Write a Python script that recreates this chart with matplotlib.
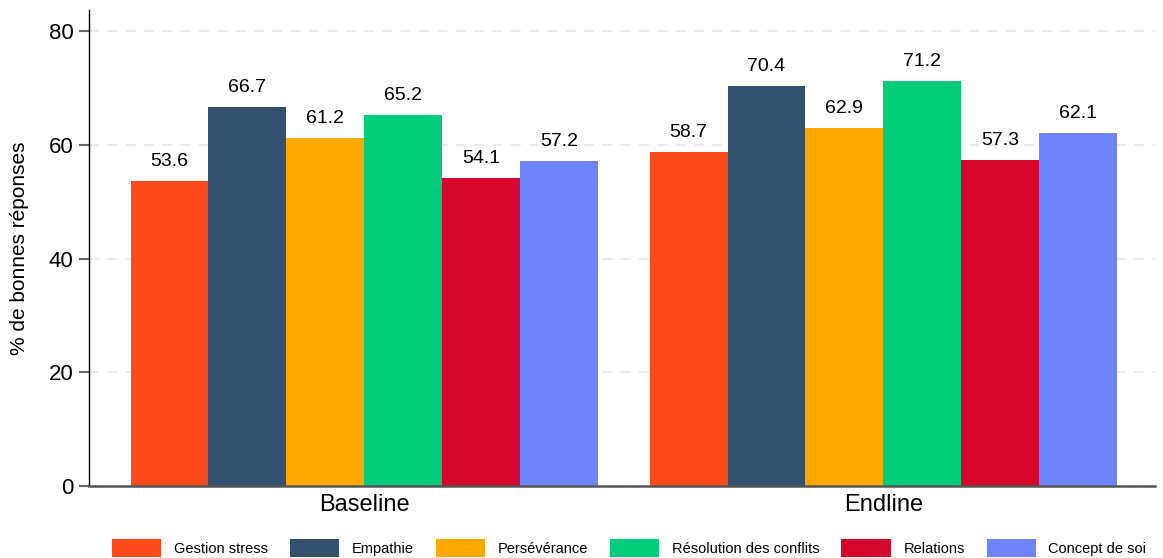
import numpy as np
import matplotlib.pyplot as plt

plt.rcParams['font.family'] = ['Liberation Sans', 'DejaVu Sans']

groups = ['Baseline', 'Endline']
skills = ['Gestion stress', 'Empathie', 'Persévérance',
          'Résolution des conflits', 'Relations', 'Concept de soi']
baseline = [53.6, 66.7, 61.2, 65.2, 54.1, 57.2]
endline = [58.7, 70.4, 62.9, 71.2, 57.3, 62.1]
colors = ['#FF4A1C', '#33506E', '#FFA800', '#00CC7A', '#D5062E', '#7083FF']

fig = plt.figure(figsize=(11.63, 5.58), dpi=100)
ax = fig.add_axes([0.0765, 0.129, 0.9165, 0.853])

index = np.arange(len(groups))
bar_width = 0.15
values = np.array([baseline, endline])

for i, skill in enumerate(skills):
    pos = index + (i - 2.5) * bar_width
    rects = ax.bar(pos, values[:, i], bar_width, color=colors[i], label=skill)
    ax.bar_label(rects, labels=['%.1f' % v for v in values[:, i]],
                 padding=8, fontsize=14)

ax.set_xlim(-0.53, 1.523)
ax.set_ylim(0, 83.7)
ax.set_yticks([0, 20, 40, 60, 80])
ax.set_xticks(index)
ax.set_xticklabels(groups, fontsize=17)
ax.tick_params(axis='x', length=0, pad=6)
ax.tick_params(axis='y', labelsize=16, length=7, width=1.5, color='#666666', pad=4)
ax.set_ylabel('% de bonnes réponses', fontsize=15, labelpad=14)

ax.grid(axis='y', linestyle=(0, (6, 5)), color='#e6e6e6', linewidth=1.2)
ax.set_axisbelow(True)
for s in ['top', 'right']:
    ax.spines[s].set_visible(False)
ax.spines['left'].set_color('black')
ax.spines['left'].set_linewidth(1)
ax.spines['bottom'].set_color('#555555')
ax.spines['bottom'].set_linewidth(1.8)

fig.legend(loc='lower center', bbox_to_anchor=(0.541, -0.021), ncol=6,
           frameon=False, fontsize=10.5, handlelength=3.4, handleheight=1.5,
           handletextpad=0.85, columnspacing=1.5)

plt.savefig('out.png', dpi=100)
